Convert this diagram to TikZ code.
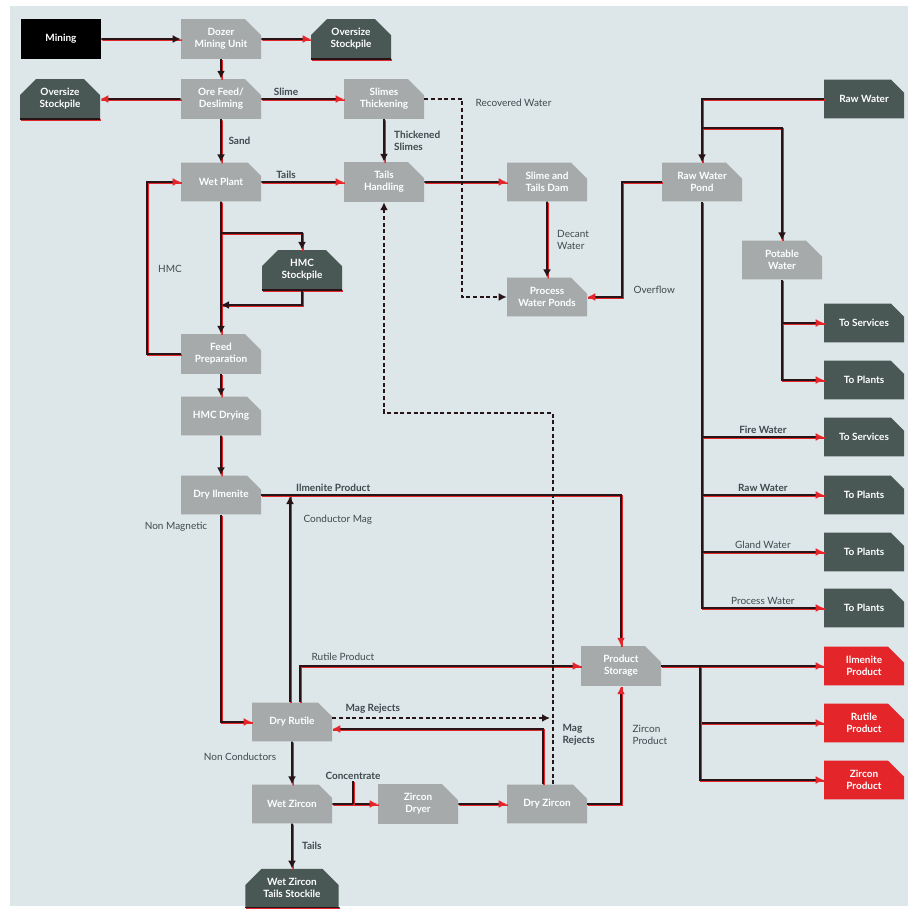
\documentclass[tikz,border=0pt]{standalone}
\usepackage{fontspec}
\setmainfont{Lato}
\usetikzlibrary{arrows.meta,shapes.misc,positioning}
\definecolor{bgblue}{RGB}{221,230,232}
\definecolor{procgray}{RGB}{166,170,171}
\definecolor{darkbox}{RGB}{74,88,85}
\definecolor{flowred}{RGB}{228,37,42}
\definecolor{linedark}{RGB}{40,20,22}
\definecolor{lbltext}{RGB}{62,74,77}
\tikzset{
  proc/.style={chamfered rectangle, chamfered rectangle corners=north east,
    chamfered rectangle xsep=6pt, chamfered rectangle ysep=6pt,
    fill=procgray, text=white, font=\fontsize{7.5}{9}\selectfont\bfseries,
    minimum width=60pt, minimum height=29pt, inner sep=1pt, align=center},
  stock/.style={proc, chamfered rectangle corners={north east,north west}, fill=darkbox},
  outbox/.style={proc, fill=darkbox},
  prodbox/.style={proc, fill=flowred},
  minebox/.style={rectangle, fill=black, text=white, font=\fontsize{7.5}{9}\selectfont\bfseries,
    minimum width=60pt, minimum height=30pt},
  lbl/.style={text=lbltext, font=\fontsize{7.5}{9}\selectfont, inner sep=1pt, align=left},
  lblb/.style={lbl, font=\fontsize{7.5}{9}\selectfont\bfseries},
  flow/.style={line width=1.3pt, draw=linedark,
    preaction={draw=flowred, line width=1.2pt, arrows=-,
      transform canvas={xshift=0.8pt,yshift=-0.8pt}}},
  recycle/.style={line width=1.2pt, draw=linedark, dash pattern=on 3pt off 2pt},
  redtip/.style={-{Latex[length=6pt,width=6pt,color=flowred]}},
  blacktip/.style={-{Latex[length=6pt,width=6pt,color=linedark]}},
  stockline/.style={line width=1.2pt, draw=linedark,
    preaction={draw=flowred, line width=1.2pt, transform canvas={xshift=0.8pt,yshift=-0.5pt}}}
}
\begin{document}
\begin{tikzpicture}[x=0.75pt,y=-0.75pt]
\useasboundingbox (0,0) rectangle (911,910);
\fill[white] (0,0) rectangle (911,910);
\fill[bgblue] (10,6) rectangle (908,906);
% ---------- mining and feed ----------
\node[minebox] (mining) at (61,39) {Mining};
\node[proc] (dozer) at (221,39) {Dozer\\Mining Unit};
\node[stock] (osright) at (351,39) {Oversize\\Stockpile};
\node[stock] (osleft) at (60,99) {Oversize\\Stockpile};
\node[proc] (orefeed) at (221,99) {Ore Feed/\\Desliming};
\node[proc] (slimes) at (384,99) {Slimes\\Thickening};
\node[proc] (wetplant) at (221,182) {Wet Plant};
\node[proc] (tailsh) at (384,182) {Tails\\Handling};
% ---------- water ----------
\node[proc] (dam) at (547,182) {Slime and\\Tails Dam};
\node[proc] (ponds) at (547,297) {Process\\Water Ponds};
\node[proc] (rwpond) at (702,182) {Raw Water\\Pond};
\node[outbox] (rawwater) at (864,99) {Raw Water};
\node[proc] (potable) at (782,260) {Potable\\Water};
\node[outbox] (svc1) at (864,323) {To Services};
\node[outbox] (plt1) at (864,380) {To Plants};
\node[outbox] (svc2) at (864,437) {To Services};
\node[outbox] (plt2) at (864,495) {To Plants};
\node[outbox] (plt3) at (864,552) {To Plants};
\node[outbox] (plt4) at (864,608) {To Plants};
% ---------- dry plant ----------
\node[stock] (hmcstock) at (302,270) {HMC\\Stockpile};
\node[proc] (feedprep) at (221,354) {Feed\\Preparation};
\node[proc] (hmcdry) at (221,416) {HMC Drying};
\node[proc] (dryilm) at (221,495) {Dry Ilmenite};
\node[proc] (dryrut) at (292,722) {Dry Rutile};
\node[proc] (wetzir) at (292,804) {Wet Zircon};
\node[proc] (zirdry) at (418,804) {Zircon\\Dryer};
\node[proc] (dryzir) at (547,804) {Dry Zircon};
\node[stock, minimum width=70pt, minimum height=27pt] (wzstock) at (292,888) {Wet Zircon\\Tails Stockile};
\node[proc] (storage) at (621,666) {Product\\Storage};
\node[prodbox] (ilmprod) at (864,666) {Ilmenite\\Product};
\node[prodbox] (rutprod) at (864,723) {Rutile\\Product};
\node[prodbox] (zirprod) at (864,780) {Zircon\\Product};
% stockpile bases
\foreach \s in {osright,osleft,hmcstock,wzstock}
  \draw[stockline] (\s.south west) -- (\s.south east);
% ---------- coordinates ----------
\coordinate (hmcsplit) at (221,233);
\coordinate (hmcback) at (221,305);
\coordinate (hmcloop) at (147,354);
\coordinate (rawsplit) at (702,128);
\coordinate (overbend) at (622,182);
\coordinate (recbend) at (462,99);
\coordinate (tailsret) at (384,413);
\coordinate (condmag) at (290,496);
\coordinate (rutline) at (300,667);
\coordinate (magend) at (550,718);
\coordinate (magret) at (543,729);
\coordinate (dashup) at (553,413);
\coordinate (conctick) at (353,781);
\coordinate (storsplit) at (700,666);
% ---------- connectors ----------
\draw[flow,blacktip] (mining) -- (dozer);
\draw[flow,redtip] (dozer) -- (osright);
\draw[flow,blacktip] (dozer) -- (orefeed);
\draw[flow,redtip] (orefeed) -- (osleft);
\draw[flow,redtip] (orefeed) -- node[lblb,above=1pt,pos=0.3]{Slime} (slimes);
\draw[flow,blacktip] (orefeed) -- node[lblb,right=4pt]{Sand} (wetplant);
\draw[flow,blacktip] (slimes) -- node[lblb,right=6pt]{Thickened\\Slimes} (tailsh);
\draw[flow,redtip] (wetplant) -- node[lblb,above=1pt,pos=0.3]{Tails} (tailsh);
\draw[flow,redtip] (tailsh) -- (dam);
\draw[flow,blacktip] (dam) -- node[lbl,right=6pt]{Decant\\Water} (ponds);
\draw[flow,redtip] (rwpond.west) -- (overbend) |- (ponds.east);
\node[lbl,anchor=west] (overlbl) at (632,290) {Overflow};
\draw[flow,blacktip] (rawwater.west) -| (rwpond.north);
\draw[flow,blacktip] (rawsplit) -| (potable.north);
\draw[flow,redtip] (potable.south) |- (plt1.west);
\draw[flow,redtip] (potable.south |- svc1.west) -- (svc1.west);
\draw[flow,redtip] (rwpond.south) |- node[lbl,above=1pt,pos=0.75]{Process Water} (plt4.west);
\foreach \n/\t/\s in {svc2/Fire Water/lblb, plt2/Raw Water/lblb, plt3/Gland Water/lbl}
  \draw[flow,redtip] (rwpond.south |- \n.west) -- node[\s,above=1pt]{\t} (\n.west);
\draw[recycle,blacktip] (slimes.east) -- (recbend) |- (ponds.west);
\node[lbl,anchor=west] (reclbl) at (474,103) {Recovered Water};
% HMC circuit
\draw[flow,blacktip] (wetplant) -- (feedprep);
\draw[flow,blacktip] (hmcsplit) -| (hmcstock.north);
\draw[flow,blacktip] (hmcstock.south) |- (hmcback);
\draw[flow,redtip] (feedprep.west) -- (hmcloop) |- (wetplant.west);
\node[lbl] (hmclbl) at (170,269) {HMC};
\draw[flow,blacktip] (feedprep) -- (hmcdry);
\draw[flow,blacktip] (hmcdry) -- (dryilm);
\draw[flow,redtip] (dryilm.east) -| node[lblb,above=1pt,pos=0.1]{Ilmenite Product} (storage.north);
\draw[flow,redtip] (dryilm.south) |- (dryrut.west);
\node[lbl] (nmaglbl) at (176,527) {Non Magnetic};
\draw[flow,blacktip] (condmag |- dryrut.north) -- (condmag);
\node[lbl,anchor=west] (cmaglbl) at (302,520) {Conductor Mag};
\draw[flow,redtip] (rutline |- dryrut.north) |- (storage.west);
\node[lbl,anchor=west] (rutlbl) at (310,657) {Rutile Product};
\draw[recycle,blacktip] (dryrut.east |- magend) -- (magend);
\node[lblb,anchor=west] (maglbl) at (344,709) {Mag Rejects};
\draw[flow,redtip] (magret |- dryzir.north) |- (dryrut.east |- magret);
\node[lblb,anchor=west] (mag2lbl) at (561,735) {Mag\\Rejects};
\draw[recycle,blacktip] (dashup |- dryzir.north) -- (dashup) -| (tailsh.south);
% zircon circuit
\draw[flow,blacktip] (dryrut) -- (wetzir);
\node[lbl] (nconlbl) at (240,757) {Non Conductors};
\draw[flow,redtip] (wetzir) -- (zirdry);
\draw[flow] (conctick) -- (conctick |- wetzir.east);
\node[lblb] (conclbl) at (353,776) {Concentrate};
\draw[flow,redtip] (zirdry) -- (dryzir);
\draw[flow,redtip] (dryzir.east) -| (storage.south);
\node[lbl,anchor=west] (zirlbl) at (631,735) {Zircon\\Product};
\draw[flow,blacktip] (wetzir) -- node[lblb,right=6pt]{Tails} (wzstock);
% products
\draw[flow,redtip] (storage.east) -- (ilmprod.west);
\draw[flow,redtip] (storsplit) |- (rutprod.west);
\draw[flow,redtip] (storsplit) |- (zirprod.west);
\end{tikzpicture}
\end{document}
